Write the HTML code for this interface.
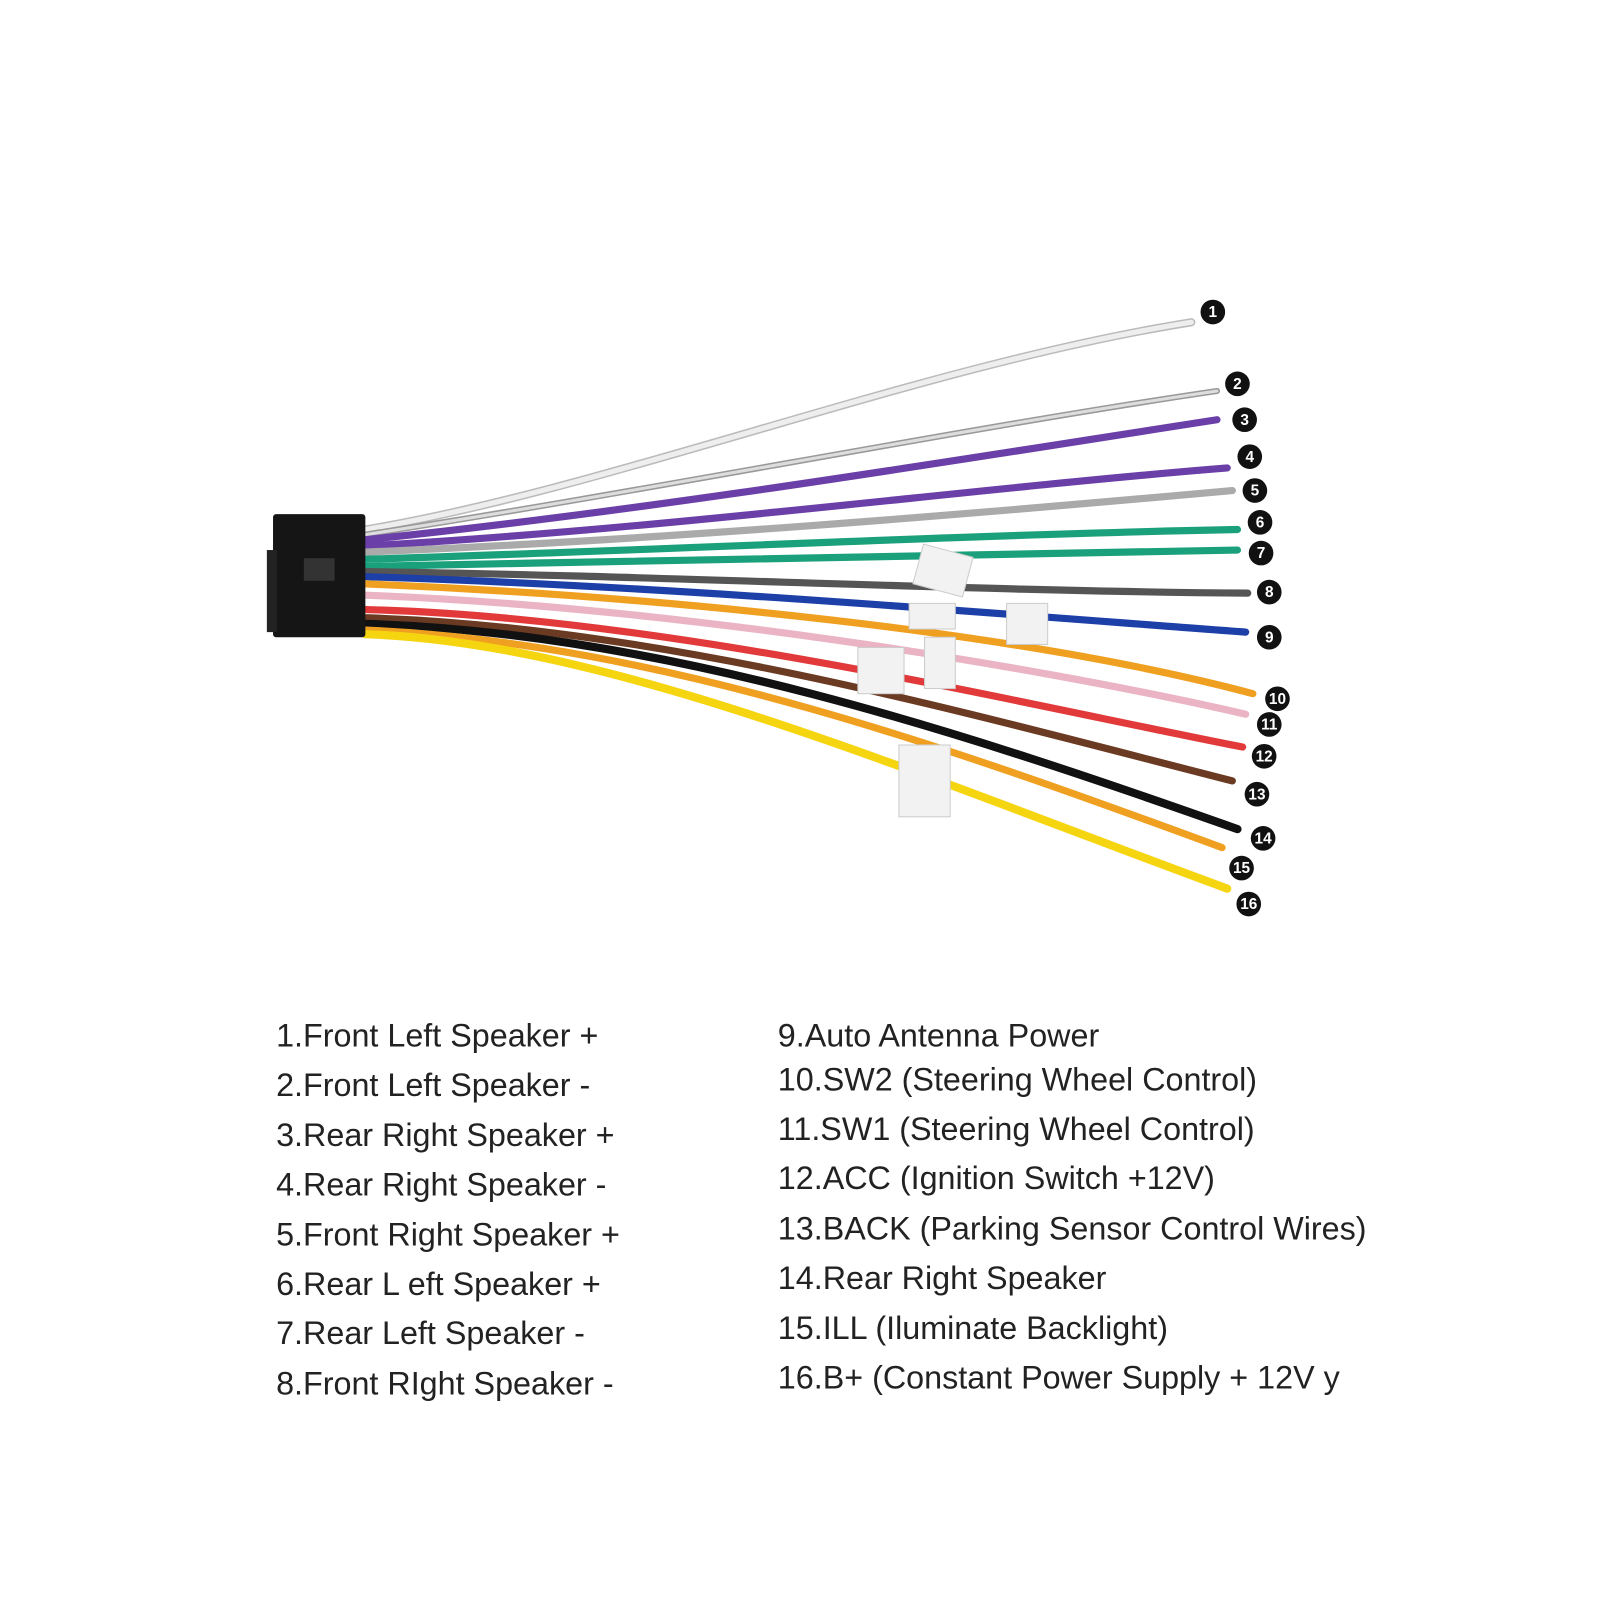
<!DOCTYPE html>
<html><head><meta charset="utf-8"><style>
html,body{margin:0;padding:0;background:#fff;}
svg{display:block;}
text{font-family:"Liberation Sans",Arial,sans-serif;}
</style></head><body>
<svg width="1600" height="1600" viewBox="0 0 1600 1600" xmlns="http://www.w3.org/2000/svg">
<rect width="1600" height="1600" fill="#fff"/>
<g transform="translate(-4,-4) scale(1.026)">
<g fill="none" stroke-linecap="round">
<path d="M360,520 C600,480 900,360 1165,318" stroke="#bbb" stroke-width="8"/>
<path d="M360,520 C600,480 900,360 1165,318" stroke="#eee" stroke-width="5"/>
<path d="M360,525 C650,480 950,420 1190,385" stroke="#999" stroke-width="6"/>
<path d="M360,525 C650,480 950,420 1190,385" stroke="#ddd" stroke-width="3"/>
<path d="M360,530 C650,500 950,450 1190,413" stroke="#6a3fa8" stroke-width="7"/>
<path d="M360,536 C650,520 950,480 1200,460" stroke="#6a3fa8" stroke-width="7"/>
<path d="M360,542 C650,530 950,505 1205,482" stroke="#aaa" stroke-width="7"/>
<path d="M360,549 C650,540 950,525 1210,520" stroke="#1aa07a" stroke-width="7"/>
<path d="M360,556 C650,550 950,545 1210,540" stroke="#1aa07a" stroke-width="7"/>
<path d="M360,561 C650,565 950,580 1220,582" stroke="#555" stroke-width="7"/>
<path d="M360,566 C650,575 950,600 1218,620" stroke="#1d3fa8" stroke-width="7"/>
<path d="M360,573 C650,585 1000,620 1225,680" stroke="#f0a020" stroke-width="7"/>
<path d="M360,584 C650,595 1000,650 1218,700" stroke="#eab4c4" stroke-width="7"/>
<path d="M360,598 C650,605 1000,690 1215,732" stroke="#e23a3a" stroke-width="7"/>
<path d="M360,606 C650,615 950,700 1205,765" stroke="#6b3a22" stroke-width="7"/>
<path d="M360,612 C650,620 950,720 1210,812" stroke="#111" stroke-width="8"/>
<path d="M360,618 C650,630 950,740 1195,830" stroke="#f0a020" stroke-width="7"/>
<path d="M360,622 C600,630 900,760 1200,870" stroke="#f5d410" stroke-width="8"/>
</g>
<rect x="270" y="505" width="90" height="120" fill="#151515" rx="3"/>
<rect x="264" y="540" width="10" height="80" fill="#222"/>
<rect x="300" y="548" width="30" height="22" fill="#333"/>
<g fill="#f2f2f2" stroke="#ccc">
<rect x="898" y="540" width="50" height="40" transform="rotate(15 923 560)"/>
<rect x="985" y="592" width="40" height="40"/>
<rect x="890" y="592" width="45" height="25"/>
<rect x="840" y="635" width="45" height="45"/>
<rect x="905" y="625" width="30" height="50"/>
<rect x="880" y="730" width="50" height="70"/>
</g>
<g fill="#111">
<circle cx="1186" cy="308" r="12"/><circle cx="1210" cy="378" r="12"/><circle cx="1217" cy="413" r="12"/><circle cx="1222" cy="449" r="12"/>
<circle cx="1227" cy="482" r="12"/><circle cx="1232" cy="513" r="12"/><circle cx="1233" cy="543" r="12"/><circle cx="1241" cy="581" r="12"/>
<circle cx="1241" cy="625" r="12"/><circle cx="1249" cy="685" r="12"/><circle cx="1241" cy="710" r="12"/><circle cx="1236" cy="741" r="12"/>
<circle cx="1229" cy="778" r="12"/><circle cx="1235" cy="821" r="12"/><circle cx="1214" cy="850" r="12"/><circle cx="1221" cy="885" r="12"/>
</g>
<g fill="#fff" font-size="15" font-weight="bold" text-anchor="middle">
<text x="1186" y="313">1</text><text x="1210" y="383">2</text><text x="1217" y="418">3</text><text x="1222" y="454">4</text>
<text x="1227" y="487">5</text><text x="1232" y="518">6</text><text x="1233" y="548">7</text><text x="1241" y="586">8</text>
<text x="1241" y="630">9</text><text x="1249" y="690">10</text><text x="1241" y="715">11</text><text x="1236" y="746">12</text>
<text x="1229" y="783">13</text><text x="1235" y="826">14</text><text x="1214" y="855">15</text><text x="1221" y="890">16</text>
</g>
<g font-size="31.5" fill="#222">
<text x="273" y="1024">1.Front Left Speaker +</text>
<text x="273" y="1072">2.Front Left Speaker -</text>
<text x="273" y="1121">3.Rear Right Speaker +</text>
<text x="273" y="1169">4.Rear Right Speaker -</text>
<text x="273" y="1218">5.Front Right Speaker +</text>
<text x="273" y="1266">6.Rear L eft Speaker +</text>
<text x="273" y="1314">7.Rear Left Speaker -</text>
<text x="273" y="1363">8.Front RIght Speaker -</text>
<text x="762" y="1024">9.Auto Antenna Power</text>
<text x="762" y="1067">10.SW2 (Steering Wheel Control)</text>
<text x="762" y="1115">11.SW1 (Steering Wheel Control)</text>
<text x="762" y="1163">12.ACC (Ignition Switch +12V)</text>
<text x="762" y="1212">13.BACK (Parking Sensor Control Wires)</text>
<text x="762" y="1260">14.Rear Right Speaker</text>
<text x="762" y="1309">15.ILL (Iluminate Backlight)</text>
<text x="762" y="1357">16.B+ (Constant Power Supply + 12V y</text>
</g>
</g>
</svg>
</body></html>
